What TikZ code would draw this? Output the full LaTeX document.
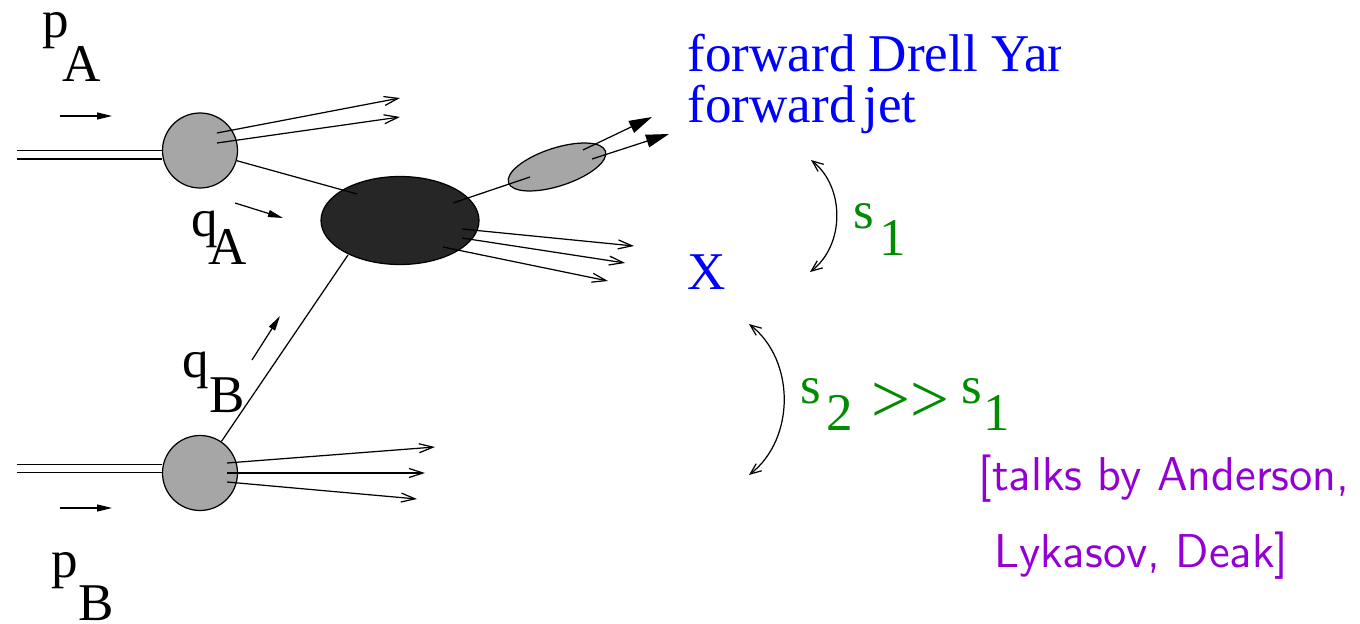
\documentclass[tikz,border=0pt]{standalone}
\usepackage{graphicx}
\usepackage{fontspec}
\setmainfont{Liberation Serif}
\usetikzlibrary{shapes.geometric,arrows.meta,positioning}
\definecolor{blobgray}{RGB}{166,166,166}
\definecolor{harddark}{RGB}{38,38,38}
\definecolor{fwdblue}{RGB}{0,0,255}
\definecolor{sgreen}{RGB}{0,140,0}
\definecolor{talkviolet}{RGB}{148,0,211}
\newcommand{\lowered}[2]{\raisebox{-#1}{#2}}

\begin{document}
\begin{tikzpicture}[
        line width=0.35pt,
        blob/.style={circle, draw, fill=blobgray, minimum size=7.5mm, inner sep=0pt},
        hardblob/.style={ellipse, draw, fill=harddark, minimum width=15.8mm, minimum height=8.8mm, inner sep=0pt},
        jetblob/.style={ellipse, draw, fill=blobgray, minimum width=10.2mm, minimum height=3.8mm, inner sep=0pt, rotate=18},
        beam/.style={double, double distance=0.7mm},
        outgoing/.style={-{Straight Barb[length=1.4mm,width=0.9mm]}},
        mom/.style={-{Triangle[length=1.5mm,width=0.7mm]}},
        jetarrow/.style={-{Triangle[length=2.3mm,width=1.3mm]}},
        sarc/.style={{Straight Barb[length=1.1mm,width=0.9mm]}-{Straight Barb[length=1.1mm,width=0.9mm]}},
        lbl/.style={font=\fontsize{15.1}{17}\selectfont, inner sep=0pt, anchor=base west}
    ]
        \useasboundingbox (0,0) rectangle (13.6,-6.24);

        % blobs
        \node[blob] (pA) at (2.00,-1.505) {};
        \node[blob] (pB) at (2.00,-4.73) {};
        \node[hardblob] (hard) at (4.00,-2.205) {};
        \node[jetblob] (jet) at (5.57,-1.67) {};

        % free ends
        \coordinate (beamA) at (0.17,-1.55);
        \coordinate (beamB) at (0.17,-4.685);
        \coordinate (hA) at (3.57,-1.94);
        \coordinate (hB) at (3.48,-2.55);
        \coordinate (hJ) at (4.53,-2.03);
        \coordinate (jIn) at (5.30,-1.77);
        \path (4.00,-0.98) coordinate (remA1) (4.00,-1.17) coordinate (remA2)
              (4.35,-4.47) coordinate (remB1) (4.25,-4.73) coordinate (remB2) (4.17,-4.99) coordinate (remB3)
              (6.34,-2.46) coordinate (hX1) (6.25,-2.63) coordinate (hX2) (6.08,-2.81) coordinate (hX3)
              (6.52,-1.17) coordinate (jet1) (6.69,-1.34) coordinate (jet2);

        % beams and partons
        \draw[beam] (beamA) -- (beamA -| pA.west);
        \draw[beam] (beamB) -- (beamB -| pB.west);
        \draw (pA) -- (hA);
        \draw (pB) -- (hB);
        \draw (hJ) -- (jIn);

        % remnants
        \draw[outgoing] ([shift={(0.17,0.175)}]pA.center) -- (remA1);
        \draw[outgoing] ([shift={(0.17,0.075)}]pA.center) -- (remA2);
        \draw[outgoing] ([shift={(0.27,0.10)}]pB.center) -- (remB1);
        \draw[outgoing] ([shift={(0.27,0)}]pB.center) -- (remB2);
        \draw[outgoing] ([shift={(0.27,-0.09)}]pB.center) -- (remB3);
        \draw[outgoing] ([shift={(0.62,-0.085)}]hard.center) -- (hX1);
        \draw[outgoing] ([shift={(0.62,-0.175)}]hard.center) -- (hX2);
        \draw[outgoing] ([shift={(0.43,-0.265)}]hard.center) -- (hX3);
        \draw[jetarrow] ([shift={(0.26,0.17)}]jet.center) -- (jet1);
        \draw[jetarrow] ([shift={(0.35,0.08)}]jet.center) -- (jet2);

        % momentum arrows
        \draw[mom] (0.60,-1.16) -- (1.12,-1.16);
        \draw[mom] (0.60,-5.08) -- (1.12,-5.08);
        \draw[mom] (2.35,-2.03) -- (2.83,-2.18);
        \draw[mom] (2.52,-3.60) -- (2.80,-3.16);

        % momentum labels
        \node[lbl] (labpA) at (0.42,-0.38) {p\hspace{-0.7mm}\lowered{4.4mm}{A}};
        \node[lbl] (labpB) at (0.51,-5.77) {p\lowered{4.3mm}{B}};
        \node[lbl] (labqA) at (1.91,-2.365) {q\hspace{-1.0mm}\lowered{2.8mm}{A}};
        \node[lbl] (labqB) at (1.82,-3.77) {q\lowered{3.5mm}{B}};

        % final states
        \begin{scope}
            \clip (6.7,0) rectangle (10.60,-1.0);
            \node[lbl, text=fwdblue] (fdy) at (6.87,-0.72) {forward Drell Yan};
        \end{scope}
        \node[lbl, text=fwdblue] (fjet) at (6.87,-1.23) {forward\hspace{0.8mm}jet};
        \node[lbl, text=fwdblue] (X) at (6.87,-2.90) {X};

        % rapidity intervals
        \coordinate (s1top) at (8.11,-1.60);
        \coordinate (s1bot) at (8.10,-2.72);
        \coordinate (s2top) at (7.49,-3.24);
        \coordinate (s2bot) at (7.49,-4.75);
        \draw[sarc] (s1top) to[bend left=52] (s1bot);
        \draw[sarc] (s2top) to[bend left=52] (s2bot);
        \node[lbl, text=sgreen] (s1) at (8.524,-2.29) {s\hspace{0.6mm}\lowered{2.7mm}{1}};
        \node[lbl, text=sgreen] (s21) at (8.00,-4.03) {s\hspace{0.5mm}\lowered{2.7mm}{2}\hspace{1.9mm}\lowered{1.9mm}{\scalebox{1.3}{\mbox{>}\mbox{>}}}\hspace{1.2mm}s\hspace{0.15mm}\lowered{2.7mm}{1}};

        \node[font=\sffamily\fontsize{13.5}{21.9}\selectfont, text=talkviolet, align=left, anchor=north west, inner sep=0pt] (talks) at (9.78,-4.544) {[talks by Anderson,\\\ Lykasov, Deak]};
    \end{tikzpicture}
\end{document}
